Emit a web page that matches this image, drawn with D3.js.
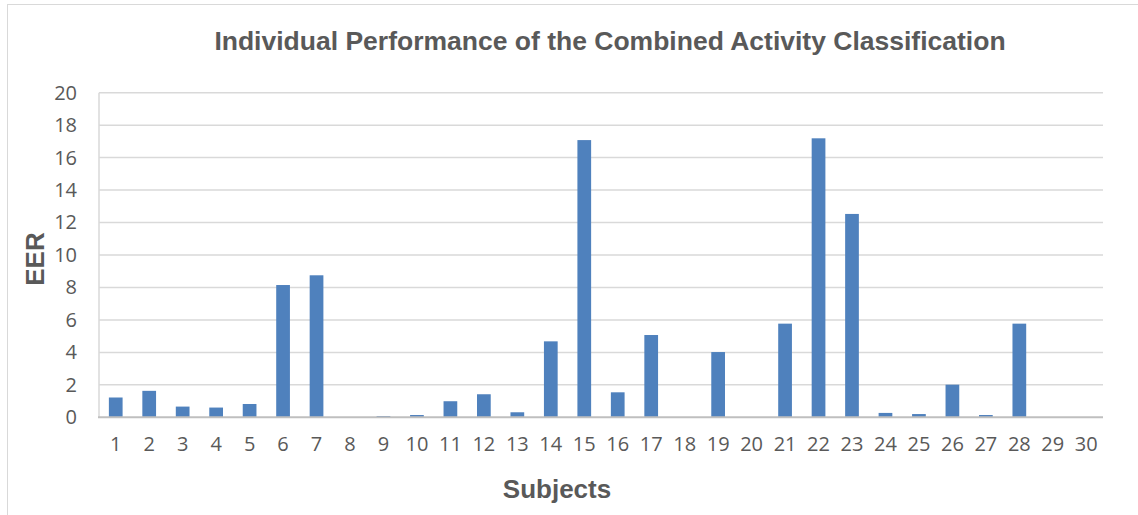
<!DOCTYPE html>
<html><head><meta charset="utf-8">
<script src="https://cdn.jsdelivr.net/npm/d3@7"></script>
<style>body{margin:0;background:#fff}svg{display:block}</style>
</head><body>
<svg id="c" width="1138" height="515"></svg>
<script>
const subjects = d3.range(1, 31).map(String);
const eer = [1.22, 1.63, 0.66, 0.60, 0.82, 8.15, 8.75, 0, 0.08, 0.14,
             0.99, 1.42, 0.31, 4.68, 17.08, 1.54, 5.07, 0, 4.02, 0,
             5.77, 17.19, 12.53, 0.27, 0.20, 2.01, 0.14, 5.77, 0, 0];
const yTicks = [0, 2, 4, 6, 8, 10, 12, 14, 16, 18, 20];
const titleText = "Individual Performance of the Combined Activity Classification";
const xTitle = "Subjects";
const yTitle = "EER";

(function () {
const svg = d3.select("#c");
const pLeft = 99, pRight = 1103, pTop = 92.7, pBottom = 417.3;
const textCol = "#595959";
const boldFont = "'Liberation Sans', Arial, Helvetica, sans-serif";

svg.append("rect").attr("x", 7.5).attr("y", 4.5).attr("width", 1140).attr("height", 520)
  .attr("fill", "none").attr("stroke", "#d9d9d9").attr("stroke-width", 1);

const x = d3.scaleBand().domain(subjects).range([pLeft, pRight]).paddingInner(0.59).paddingOuter(0.295);
const y = d3.scaleLinear().domain([0, 20]).range([pBottom, pTop]);

svg.append("g").selectAll("line").data(yTicks.filter(d => d > 0)).join("line")
  .attr("x1", pLeft).attr("x2", pRight)
  .attr("y1", d => y(d)).attr("y2", d => y(d))
  .attr("stroke", "#d9d9d9").attr("stroke-width", 1.5);

svg.append("line").attr("x1", pLeft).attr("x2", pLeft).attr("y1", pTop).attr("y2", pBottom)
  .attr("stroke", "#d9d9d9").attr("stroke-width", 1.5);

svg.append("g").selectAll("rect").data(subjects).join("rect")
  .attr("x", d => x(d)).attr("width", x.bandwidth())
  .attr("y", (d, i) => y(eer[i])).attr("height", (d, i) => y(0) - y(eer[i]))
  .attr("fill", "#4f81bd");

svg.append("line").attr("x1", pLeft - 1).attr("x2", pRight).attr("y1", pBottom).attr("y2", pBottom)
  .attr("stroke", "#bfbfbf").attr("stroke-width", 2);

const yAxis = d3.axisLeft(y).tickValues(yTicks).tickSize(0).tickPadding(0);
const gy = svg.append("g").attr("transform", "translate(77,0)").call(yAxis);
gy.select(".domain").remove();
gy.selectAll("text").attr("fill", textCol).style("font-family", "'Open Sans'").style("font-size", "20px");

const xAxis = d3.axisBottom(x).tickSize(0).tickPadding(0);
const gx = svg.append("g").attr("transform", "translate(0,437)").call(xAxis);
gx.select(".domain").remove();
gx.selectAll("text").attr("fill", textCol).style("font-family", "'Open Sans'").style("font-size", "20px");

svg.append("text").attr("x", 610).attr("y", 50).attr("text-anchor", "middle")
  .attr("fill", textCol).style("font-family", boldFont).style("font-weight", "bold").style("font-size", "26.5px")
  .text(titleText);
svg.append("text").attr("x", 557).attr("y", 498).attr("text-anchor", "middle")
  .attr("fill", textCol).style("font-family", boldFont).style("font-weight", "bold").style("font-size", "26px")
  .text(xTitle);
svg.append("text").attr("transform", "translate(44,259) rotate(-90)").attr("text-anchor", "middle")
  .attr("fill", textCol).style("font-family", boldFont).style("font-weight", "bold").style("font-size", "26px")
  .text(yTitle);
})();
</script>
</body></html>
